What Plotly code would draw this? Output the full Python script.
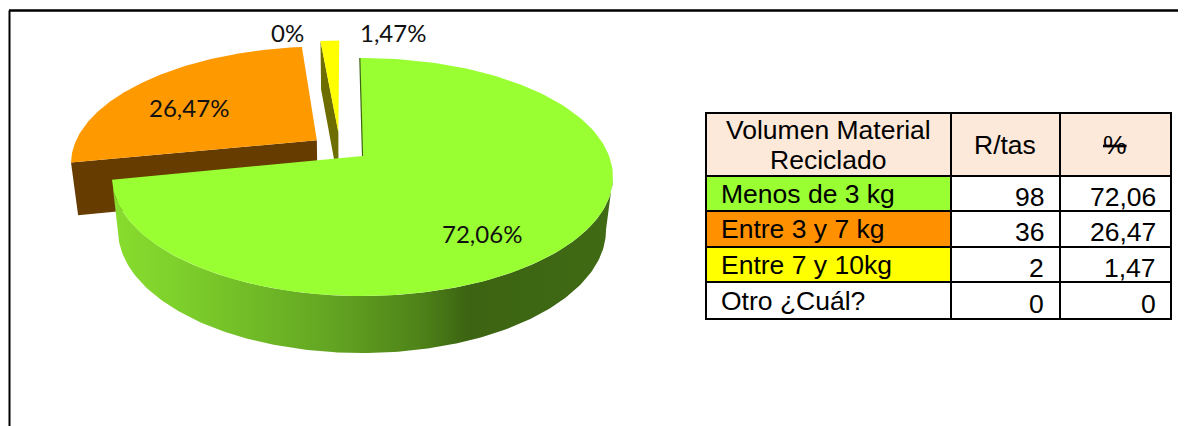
"""
Volumen de material reciclado: pseudo 3D exploded pie plus the small table next to it.
"""

import numpy as np
import plotly.graph_objects as go

# data, in pie order (clockwise from 12 o'clock)
PCT_LABELS = ["72,06%", "26,47%", "0%", "1,47%"]
PCT_VALUES = [72.06, 26.47, 0, 1.47]

TABLE_HEADER = ["Volumen Material", "Reciclado", "R/tas", "%"]
TABLE_ROWS = ["Menos de 3 kg", "Entre 3 y 7 kg", "Entre 7 y 10kg", "Otro ¿Cuál?"]
TABLE_COUNTS = ["98", "36", "2", "0"]
TABLE_PCTS = ["72,06", "26,47", "1,47", "0"]

# pie geometry (pixels, the axes run 1:1 with the page)
TOP = dict(cx=364, cy=177, rx=250.5, ry=119)
BOTTOM = dict(cx=363.5, cy=230, rx=244, ry=123)
TILT = 0.176  # moves the apex off the ellipse centre, gives the perspective
START_DEG = -0.8
EXPLODE = {0: (-0.006, 0.0), 1: (-0.196, 0.141), 3: (-0.108, 0.216)}

GREEN = "#99ff33"
ORANGE = "#ff9900"
YELLOW = "#ffff00"
BROWN = "#663c00"
OLIVE = "#6e6e00"
HEADER_BG = "#fde9d9"

FONT_PIE = "Lato, Carlito, sans-serif"
FONT_TABLE = "Liberation Sans, Arial, sans-serif"

# write_html leaves the 8px body margin, so the plot starts 8px into the page
PAGE_W, PAGE_H, BODY_MARGIN = 1186, 426, 8


def project(theta_deg, radius, plane, shift=(0.0, 0.0)):
    """Disc position (clockwise from 12 o'clock) to page pixels."""
    t = np.radians(theta_deg)
    u = radius * np.sin(t) + shift[0]
    v = radius * np.cos(t) + shift[1]
    w = 1 + TILT * v
    up = u * np.sqrt(1 - TILT**2) / w
    vp = (v + TILT) / w
    return plane["cx"] + plane["rx"] * up, plane["cy"] - plane["ry"] * vp


def arc(a0, a1, plane, shift=(0.0, 0.0)):
    thetas = np.linspace(a0, a1, 160)
    return project(thetas, 1.0, plane, shift)


def poly(fig, xs, ys, color, **kw):
    fig.add_trace(go.Scatter(
        x=list(xs), y=list(ys), mode="lines", fill="toself", fillcolor=color,
        line=dict(width=0), hoverinfo="skip", showlegend=False, **kw,
    ))


def wedge(fig, a0, a1, color, shift):
    ax, ay = project(a0, 0.0, TOP, shift)
    xs, ys = arc(a0, a1, TOP, shift)
    poly(fig, np.r_[ax, xs], np.r_[ay, ys], color)


def wall(fig, angle, color, shift):
    """Flat cut face of a slice, from the rim to the apex and down."""
    x0, y0 = project(angle, 1.0, TOP, shift)
    x1, y1 = project(angle, 0.0, TOP, shift)
    x2, y2 = project(angle, 0.0, BOTTOM, shift)
    x3, y3 = project(angle, 1.0, BOTTOM, shift)
    poly(fig, [x0, x1, x2, x3], [y0, y1, y2, y3], color)


edges = START_DEG + np.cumsum([0] + PCT_VALUES) / sum(PCT_VALUES) * 360
green_a0, green_a1 = edges[0], edges[1]
orange_a0, orange_a1 = edges[1], edges[2]
yellow_a0, yellow_a1 = edges[3], edges[4]

fig = go.Figure()

# exploded slices at the back
wall(fig, orange_a0, BROWN, EXPLODE[1])
wedge(fig, orange_a0, orange_a1, ORANGE, EXPLODE[1])
wall(fig, yellow_a0, OLIVE, EXPLODE[3])
wedge(fig, yellow_a0, yellow_a1, YELLOW, EXPLODE[3])

# green side band, then its face
tx, ty = arc(100, green_a1, TOP, EXPLODE[0])
bx, by = arc(100, green_a1, BOTTOM, EXPLODE[0])
fig.add_trace(go.Scatter(
    x=np.r_[tx, bx[::-1]], y=np.r_[ty, by[::-1]], mode="lines", fill="toself",
    fillgradient=dict(
        type="horizontal", start=112, stop=613,
        colorscale=[
            [0.0, "#88dd2e"], [0.14, "#7dcf2b"], [0.44, "#63a422"],
            [0.61, "#4f8419"], [0.71, "#3c6412"], [1.0, "#406a14"],
        ],
    ),
    line=dict(width=0), hoverinfo="skip", showlegend=False,
))
wedge(fig, green_a0, green_a1, GREEN, EXPLODE[0])

# thin dark cut edge where the green slice starts
ex0, ey0 = project(green_a0, 1.0, TOP, EXPLODE[0])
ex1, ey1 = project(green_a0, 0.0, TOP, EXPLODE[0])
fig.add_trace(go.Scatter(
    x=[ex0, ex1], y=[ey0, ey1], mode="lines", line=dict(color="#3e6513", width=1.2),
    hoverinfo="skip", showlegend=False,
))

# pie labels
label_pos = [(482, 233), (189, 107.5), (287, 32.5), (393, 32.5)]
for text, (lx, ly) in zip(PCT_LABELS, label_pos):
    fig.add_annotation(
        x=lx, y=ly, text=text, showarrow=False,
        font=dict(family=FONT_PIE, size=24, color="#111111"),
    )

# table grid
col_x = [706, 951, 1060, 1171]
row_y = [113, 176, 211, 247, 282, 319]
row_fill = [GREEN, "#ff9100", YELLOW, "#ffffff"]
for c in range(3):
    fig.add_shape(
        type="rect", x0=col_x[c], x1=col_x[c + 1], y0=row_y[0], y1=row_y[1],
        fillcolor=HEADER_BG, line=dict(color="#000000", width=2),
    )
for r in range(4):
    for c in range(3):
        fig.add_shape(
            type="rect", x0=col_x[c], x1=col_x[c + 1], y0=row_y[r + 1], y1=row_y[r + 2],
            fillcolor=row_fill[r] if c == 0 else "#ffffff",
            line=dict(color="#000000", width=2),
        )

# table text
font_tbl = dict(family=FONT_TABLE, size=26.5, color="#000000")
head_pos = [(828, 130), (828, 160), (1005, 145), (1115, 145)]
for text, (hx, hy) in zip(TABLE_HEADER, head_pos):
    font = dict(font_tbl)
    if text == "%":
        font["lineposition"] = "through"
    fig.add_annotation(x=hx, y=hy, text=text, showarrow=False, font=font)
for r in range(4):
    mid = (row_y[r + 1] + row_y[r + 2]) / 2
    fig.add_annotation(x=719, y=mid, text=TABLE_ROWS[r], showarrow=False,
                       xanchor="left", font=font_tbl)
    fig.add_annotation(x=1046, y=mid + 3, text=TABLE_COUNTS[r], showarrow=False,
                       xanchor="right", font=font_tbl)
    fig.add_annotation(x=1158, y=mid + 3, text=TABLE_PCTS[r], showarrow=False,
                       xanchor="right", font=font_tbl)

# outer frame, cut off by the image at the bottom
fig.add_shape(type="line", x0=9.5, x1=9.5, y0=10.5, y1=PAGE_H, line=dict(color="#000000", width=2))
fig.add_shape(type="line", x0=9, x1=1185, y0=10.5, y1=10.5, line=dict(color="#000000", width=2.5))
fig.add_shape(type="line", x0=1185, x1=1185, y0=10.5, y1=PAGE_H, line=dict(color="#000000", width=1.5))

fig.update_layout(
    width=PAGE_W - BODY_MARGIN, height=PAGE_H - BODY_MARGIN,
    margin=dict(l=0, r=0, t=0, b=0),
    paper_bgcolor="#ffffff", plot_bgcolor="#ffffff", showlegend=False,
    xaxis=dict(visible=False, range=[BODY_MARGIN, PAGE_W], fixedrange=True),
    yaxis=dict(visible=False, range=[PAGE_H, BODY_MARGIN], fixedrange=True),
)

fig.write_html("out.html", config={"displayModeBar": False})
